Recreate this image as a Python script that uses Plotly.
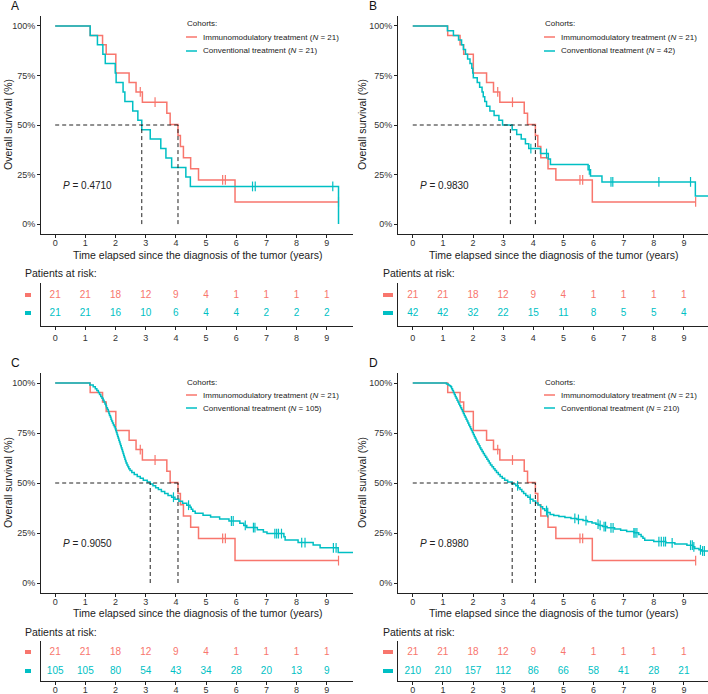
import bisect
import plotly.graph_objects as go

W, H = 708, 694
RED = "#F8766D"
TEAL = "#00BFC4"
FONT = "Liberation Sans, Arial, sans-serif"

years = list(range(10))

# ---- Immunomodulatory cohort (same in all panels), N = 21 ----
immuno_event_t = [1.16, 1.57, 1.69, 2.01, 2.45, 2.68, 2.89, 3.70, 3.81, 4.07, 4.15, 4.25, 4.49, 4.75, 5.96]
immuno_event_s = [95.2, 90.5, 85.7, 76.2, 71.4, 66.7, 61.5, 55.9, 50.3, 44.7, 39.1, 33.5, 27.9, 22.3, 11.2]
immuno_censor_t = [2.82, 3.31, 5.55, 5.64, 9.39]
immuno_end = 9.39

# ---- Conventional cohort, panel A (N = 21) ----
convA_event_t = [1.16, 1.40, 1.58, 1.66, 1.99, 2.02, 2.25, 2.31, 2.57, 2.74, 2.87, 3.15, 3.50, 3.67, 3.86, 4.33, 4.48, 9.39]
convA_event_s = [95.2, 90.5, 85.7, 81.0, 76.2, 71.4, 66.7, 61.9, 57.1, 52.4, 47.6, 42.9, 38.1, 33.3, 28.6, 23.8, 19.0, 0.0]
convA_censor_t = [6.54, 6.63, 9.20]
convA_end = 9.39

# ---- Conventional cohort, panel B (N = 42) ----
convB_event_t = [1.15, 1.35, 1.52, 1.62, 1.68, 1.75, 1.82, 1.90, 1.96, 1.99, 2.01, 2.14, 2.22, 2.30, 2.34,
                 2.39, 2.45, 2.56, 2.70, 2.86, 2.98, 3.30, 3.45, 3.60, 3.74, 3.85, 4.24, 4.50, 4.57, 5.82,
                 5.90, 6.28, 9.38]
convB_event_s = [97.6, 95.2, 92.9, 90.5, 88.1, 85.7, 83.3, 81.0, 78.6, 76.2, 73.8, 71.4, 69.0, 66.7, 64.3,
                 61.9, 59.5, 57.1, 54.8, 52.4, 50.0, 47.6, 45.2, 42.9, 40.5, 38.1, 35.6, 32.8, 30.1, 27.4,
                 24.3, 21.3, 14.2]
convB_censor_t = [3.92, 4.44, 5.86, 6.58, 6.64, 8.17, 9.22]
convB_end = 9.80

# ---- Conventional cohort, panel C (N = 105) ----
convC_event_t = [1.15, 1.26, 1.33, 1.38, 1.43, 1.47, 1.51, 1.55, 1.59, 1.62, 1.65, 1.68, 1.70, 1.73, 1.76,
                 1.78, 1.80, 1.83, 1.85, 1.87, 1.90, 1.93, 1.96, 1.99, 2.01, 2.03, 2.05, 2.07, 2.09, 2.11,
                 2.13, 2.15, 2.17, 2.19, 2.21, 2.23, 2.25, 2.27, 2.29, 2.31, 2.33, 2.35, 2.38, 2.41, 2.44,
                 2.48, 2.54, 2.62, 2.72, 2.82, 2.92, 3.05, 3.15, 3.24, 3.33, 3.42, 3.52, 3.63, 3.74, 3.86,
                 3.97, 4.10, 4.22, 4.36, 4.47, 4.51, 4.56, 4.64, 4.90, 5.15, 5.45, 5.76, 6.12, 6.25, 6.35,
                 6.70, 6.90, 7.02, 7.58, 7.62, 8.05, 8.55, 8.78, 9.38]
convC_event_s = [99.0, 98.1, 97.1, 96.2, 95.2, 94.3, 93.3, 92.4, 91.4, 90.5, 89.5, 88.6, 87.6, 86.7, 85.7,
                 84.8, 83.8, 82.9, 81.9, 81.0, 80.0, 79.0, 78.1, 77.1, 76.2, 75.2, 74.3, 73.3, 72.4, 71.4,
                 70.5, 69.5, 68.6, 67.6, 66.7, 65.7, 64.8, 63.8, 62.9, 61.9, 61.0, 60.0, 59.0, 58.1, 57.1,
                 56.2, 55.2, 54.3, 53.3, 52.4, 51.4, 50.5, 49.5, 48.6, 47.6, 46.7, 45.7, 44.8, 43.8, 42.9,
                 41.9, 40.9, 39.9, 38.9, 37.9, 36.9, 35.9, 34.9, 33.9, 33.0, 32.0, 31.0, 29.9, 28.8, 27.7,
                 26.6, 25.5, 24.7, 23.1, 21.5, 20.2, 19.0, 17.6, 15.2]
convC_censor_t = [3.92, 4.42, 5.84, 5.90, 6.30, 6.57, 6.62, 7.28, 7.34, 7.40, 7.50, 8.17, 8.28, 9.22, 9.31]
convC_end = 9.87

# ---- Conventional cohort, panel D (N = 210) ----
convD_event_t = [1.12, 1.18, 1.22, 1.26, 1.29, 1.32, 1.35, 1.38, 1.41, 1.44, 1.47, 1.50, 1.53, 1.56, 1.59,
                 1.62, 1.65, 1.68, 1.71, 1.74, 1.77, 1.80, 1.83, 1.86, 1.89, 1.92, 1.95, 1.98, 2.01, 2.04,
                 2.07, 2.10, 2.13, 2.16, 2.20, 2.23, 2.26, 2.30, 2.34, 2.38, 2.42, 2.46, 2.50, 2.54, 2.58,
                 2.63, 2.68, 2.73, 2.78, 2.84, 2.90, 2.97, 3.05, 3.15, 3.30, 3.42, 3.50, 3.56, 3.62, 3.68,
                 3.75, 3.82, 3.90, 3.99, 4.08, 4.16, 4.24, 4.31, 4.38, 4.46, 4.56, 4.68, 4.85, 5.05, 5.25,
                 5.45, 5.65, 5.80, 5.95, 6.08, 6.18, 6.30, 6.45, 6.70, 6.90, 7.10, 7.34, 7.50, 7.58, 7.64,
                 7.70, 8.00, 8.40, 8.70, 9.10, 9.30, 9.36, 9.50, 9.58]
convD_event_s = [99.5, 99.0, 98.6, 98.1, 97.1, 96.2, 95.2, 94.3, 93.3, 92.4, 91.4, 90.5, 89.5, 88.6, 87.6,
                 86.7, 85.7, 84.8, 83.8, 82.9, 81.9, 81.0, 80.0, 79.0, 78.1, 77.1, 76.2, 75.2, 74.3, 73.3,
                 72.4, 71.4, 70.5, 69.5, 68.6, 67.6, 66.7, 65.7, 64.8, 63.8, 62.9, 61.9, 61.0, 60.0, 59.0,
                 58.1, 57.1, 56.2, 55.2, 54.3, 53.3, 52.4, 51.4, 50.5, 49.5, 48.6, 47.6, 46.7, 45.7, 44.8,
                 43.8, 42.9, 41.9, 41.0, 40.0, 39.0, 38.1, 37.1, 36.2, 35.2, 34.3, 33.8, 33.3, 32.8, 32.3,
                 31.8, 31.2, 30.6, 30.0, 29.4, 28.8, 28.2, 27.6, 27.0, 26.4, 25.8, 25.1, 24.2, 23.3, 22.4,
                 21.4, 20.7, 20.1, 19.5, 18.9, 18.1, 17.2, 16.6, 16.0]
convD_censor_t = [3.48, 3.90, 4.44, 4.48, 5.38, 5.50, 5.75, 6.15, 6.22, 6.35, 6.40, 6.58, 6.65, 7.34, 7.38,
                  7.44, 8.17, 8.25, 8.33, 8.39, 8.61, 9.22, 9.28, 9.33, 9.55, 9.62, 9.68]
convD_end = 9.80

# ---- Risk tables ----
risk_immuno = [21, 21, 18, 12, 9, 4, 1, 1, 1, 1]
risk_convA = [21, 21, 16, 10, 6, 4, 4, 2, 2, 2]
risk_convB = [42, 42, 32, 22, 15, 11, 8, 5, 5, 4]
risk_convC = [105, 105, 80, 54, 43, 34, 28, 20, 13, 9]
risk_convD = [210, 210, 157, 112, 86, 66, 58, 41, 28, 21]

immuno_n = 21
conv_n = [21, 42, 105, 210]
p_values = ["0.4710", "0.9830", "0.9050", "0.8980"]
median_immuno = [4.07, 4.07, 4.07, 4.07]
median_conv = [2.87, 3.24, 3.15, 3.30]
letters = ["A", "B", "C", "D"]

conv_data = [
    (convA_event_t, convA_event_s, convA_censor_t, convA_end, risk_convA),
    (convB_event_t, convB_event_s, convB_censor_t, convB_end, risk_convB),
    (convC_event_t, convC_event_s, convC_censor_t, convC_end, risk_convC),
    (convD_event_t, convD_event_s, convD_censor_t, convD_end, risk_convD),
]


def px(x):
    return x / W


def py(y):
    return 1 - y / H


def surv_at(ts, ss, t):
    i = bisect.bisect_right(ts, t)
    return 100.0 if i == 0 else ss[i - 1]


# layout geometry (pixels)
cols = [dict(left=41, right=353, xr=[-0.47, 9.87], letter_x=15, leg_x=185, p_x=61, ytitle_x=8,
             risk_x=23, bar=(25, 31)),
        dict(left=398, right=708, xr=[-0.49, 9.80], letter_x=373, leg_x=543, p_x=418, ytitle_x=362,
             risk_x=381, bar=(383, 393))]
rows = [dict(top=16, bottom=234, letter_y=6, leg_y=(23, 37, 51), p_y=185, xtitle_y=255, risk_y=273,
             tab=(283, 326), tab_rows=(295, 313), tab_standoff=0),
        dict(top=373, bottom=593, letter_y=363, leg_y=(382, 395, 408), p_y=543, xtitle_y=613, risk_y=632,
             tab=(641, 681), tab_rows=(652, 671), tab_standoff=-3)]

fig = go.Figure()
layout = dict(width=W, height=H, margin=dict(l=0, r=0, t=0, b=0), paper_bgcolor="white",
              plot_bgcolor="white", showlegend=False, hovermode=False,
              font=dict(family=FONT, color="#222222"))
shapes = []
annotations = []

axis_common = dict(showline=True, linecolor="#222222", linewidth=1, showgrid=False, zeroline=False,
                   ticks="outside", ticklen=3, tickcolor="#222222", tickwidth=1,
                   tickfont=dict(size=9, color="#333333", family=FONT))

for k in range(4):
    c = cols[k % 2]
    r = rows[k // 2]
    ev_t, ev_s, cen_t, end_t, risk_c = conv_data[k]
    mi = k + 1
    ti = k + 5
    xm, ym, xt, yt = f"x{mi}", f"y{mi}", f"x{ti}", f"y{ti}"

    # main axes
    layout[f"xaxis{mi}"] = dict(axis_common, domain=[px(c["left"]), px(c["right"])], range=c["xr"],
                                anchor=ym, tickvals=years, ticklabelstandoff=-3)
    layout[f"yaxis{mi}"] = dict(axis_common, domain=[py(r["bottom"]), py(r["top"])], range=[-5, 105],
                                anchor=xm, tickvals=[0, 25, 50, 75, 100],
                                ticktext=["0%", "25%", "50%", "75%", "100%"])
    # risk table axes
    t0, t1 = r["tab"]
    r2, r1 = r["tab_rows"]  # red row (2), teal row (1)
    unit = r1 - r2
    yr = [1 - (t1 - r1) / unit, 2 + (r2 - t0) / unit]
    layout[f"xaxis{ti}"] = dict(axis_common, domain=[px(c["left"]), px(c["right"])], range=c["xr"],
                                anchor=yt, tickvals=years, ticklabelstandoff=r["tab_standoff"])
    layout[f"yaxis{ti}"] = dict(showline=True, linecolor="#222222", linewidth=1, showgrid=False,
                                zeroline=False, ticks="", showticklabels=False,
                                domain=[py(t1), py(t0)], range=yr, anchor=xt)

    # curves
    groups = [(immuno_event_t, immuno_event_s, immuno_censor_t, immuno_end, RED),
              (ev_t, ev_s, cen_t, end_t, TEAL)]
    for (et, es, ct, end, col) in groups:
        xs = [0] + et + [end]
        ys = [100.0] + es + [es[-1]]
        fig.add_trace(go.Scatter(x=xs, y=ys, mode="lines", line=dict(color=col, width=1.5, shape="hv"),
                                 xaxis=xm, yaxis=ym, hoverinfo="skip"))
        fig.add_trace(go.Scatter(x=ct, y=[surv_at(et, es, t) for t in ct], mode="markers",
                                 marker=dict(symbol="line-ns", size=7, line=dict(color=col, width=1.2)),
                                 xaxis=xm, yaxis=ym, hoverinfo="skip"))

    # median lines
    mmax = max(median_immuno[k], median_conv[k])
    dash = dict(color="#222222", width=1, dash="4px,3px")
    shapes.append(dict(type="line", xref=xm, yref=ym, x0=0, x1=mmax, y0=50, y1=50, line=dash))
    for m in (median_immuno[k], median_conv[k]):
        shapes.append(dict(type="line", xref=xm, yref=ym, x0=m, x1=m, y0=0, y1=50, line=dash))

    # risk table numbers
    fig.add_trace(go.Scatter(x=years, y=[2] * 10, mode="text", text=[str(v) for v in risk_immuno],
                             textfont=dict(color=RED, size=10, family=FONT), xaxis=xt, yaxis=yt,
                             hoverinfo="skip"))
    fig.add_trace(go.Scatter(x=years, y=[1] * 10, mode="text", text=[str(v) for v in risk_c],
                             textfont=dict(color=TEAL, size=10, family=FONT), xaxis=xt, yaxis=yt,
                             hoverinfo="skip"))
    # risk table colour keys
    for yy, col in ((r2, RED), (r1, TEAL)):
        shapes.append(dict(type="rect", xref="paper", yref="paper", x0=px(c["bar"][0]), x1=px(c["bar"][1]),
                           y0=py(yy + 2), y1=py(yy - 2), fillcolor=col, line=dict(width=0)))

    # legend
    ly0, ly1, ly2 = r["leg_y"]
    annotations.append(dict(text="Cohorts:", xref="paper", yref="paper", x=px(c["leg_x"]), y=py(ly0),
                            xanchor="left", yanchor="middle", showarrow=False,
                            font=dict(size=8, family=FONT, color="#222222")))
    labels = [f"Immunomodulatory treatment (<i>N</i> = {immuno_n})",
              f"Conventional treatment (<i>N</i> = {conv_n[k]})"]
    for yy, col, lab in ((ly1, RED, labels[0]), (ly2, TEAL, labels[1])):
        shapes.append(dict(type="line", xref="paper", yref="paper", x0=px(c["leg_x"] + 1),
                           x1=px(c["leg_x"] + 12), y0=py(yy), y1=py(yy), line=dict(color=col, width=1.5)))
        annotations.append(dict(text=lab, xref="paper", yref="paper", x=px(c["leg_x"] + 16), y=py(yy),
                                xanchor="left", yanchor="middle", showarrow=False,
                                font=dict(size=8, family=FONT, color="#222222")))

    # P value
    annotations.append(dict(text=f"<i>P</i> = {p_values[k]}", xref="paper", yref="paper", x=px(c["p_x"]),
                            y=py(r["p_y"]), xanchor="left", yanchor="middle", showarrow=False,
                            font=dict(size=10, family=FONT, color="#222222")))
    # panel letter
    annotations.append(dict(text=letters[k], xref="paper", yref="paper", x=px(c["letter_x"]),
                            y=py(r["letter_y"]), xanchor="center", yanchor="middle", showarrow=False,
                            font=dict(size=12, family=FONT, color="#111111")))
    # axis titles
    annotations.append(dict(text="Time elapsed since the diagnosis of the tumor (years)", xref="paper",
                            yref="paper", x=px((c["left"] + c["right"]) / 2), y=py(r["xtitle_y"]),
                            xanchor="center", yanchor="middle", showarrow=False,
                            font=dict(size=10.5, family=FONT, color="#222222")))
    annotations.append(dict(text="Overall survival (%)", xref="paper", yref="paper", x=px(c["ytitle_x"]),
                            y=py((r["top"] + r["bottom"]) / 2), xanchor="center", yanchor="middle",
                            textangle=-90, showarrow=False, font=dict(size=10.5, family=FONT, color="#222222")))
    annotations.append(dict(text="Patients at risk:", xref="paper", yref="paper", x=px(c["risk_x"]),
                            y=py(r["risk_y"]), xanchor="left", yanchor="middle", showarrow=False,
                            font=dict(size=10.5, family=FONT, color="#222222")))

layout["shapes"] = shapes
layout["annotations"] = annotations
fig.update_layout(**layout)
fig.write_html("out.html", config={"displayModeBar": False},
               post_script="document.body.style.margin='0';document.body.style.padding='0';")
